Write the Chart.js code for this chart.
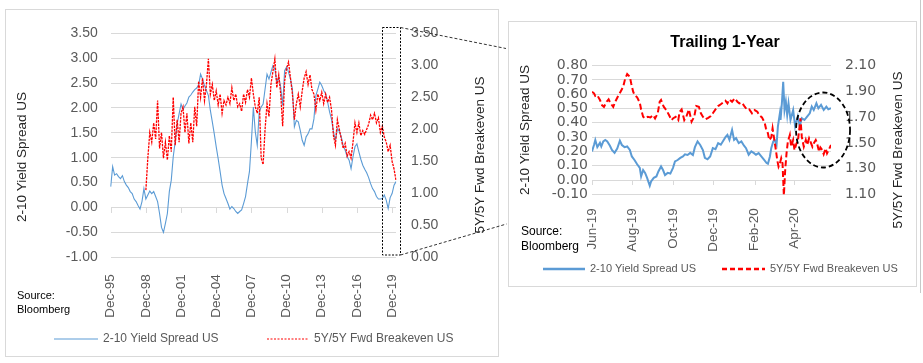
<!DOCTYPE html>
<html>
<head>
<meta charset="utf-8">
<script src="https://cdn.jsdelivr.net/npm/chart.js@4.4.1/dist/chart.umd.min.js"></script>
<style>
  html, body { margin: 0; padding: 0; background: #fff; }
  body { width: 923px; height: 363px; position: relative; overflow: hidden; }
  .frame { position: absolute; border: 1px solid #d9d9d9; box-sizing: border-box; }
  .wrap { position: absolute; }
  #leftFrame, #leftWrap { left: 5px; top: 9px; width: 494px; height: 348px; }
  #rightFrame, #rightWrap { left: 508px; top: 21px; width: 409px; height: 266px; }
  #edge { position: absolute; left: 920px; top: 0; width: 1px; height: 293px; background: #c8c8c8; }
  #overlay { position: absolute; left: 0; top: 0; pointer-events: none; }
</style>
</head>
<body>
<div class="frame" id="leftFrame"></div>
<div class="frame" id="rightFrame"></div>
<div id="edge"></div>
<div class="wrap" id="leftWrap"><canvas id="leftChart" width="494" height="348"></canvas></div>
<div class="wrap" id="rightWrap"><canvas id="rightChart" width="409" height="266"></canvas></div>
<canvas id="overlay" width="923" height="363"></canvas>
<script>
// ---- long history (every 2 months from Dec-95) ----
const leftSpread = [
  0.42,0.82,0.65,0.68,0.62,0.58,0.64,0.52,0.45,0.40,
  0.32,0.28,0.17,0.12,0.04,-0.03,0.12,0.38,0.17,0.25,
  0.33,0.28,0.32,0.22,0.12,-0.12,-0.40,-0.50,-0.32,-0.12,
  0.32,0.55,1.02,1.32,1.68,1.88,2.08,1.97,2.04,2.10,
  2.22,2.26,2.32,2.37,2.40,2.46,2.68,2.58,2.45,2.35,
  2.25,1.95,1.72,1.48,1.22,0.98,0.72,0.45,0.28,0.18,
  0.08,-0.03,0.02,-0.02,-0.08,-0.12,-0.08,-0.05,0.08,0.22,
  0.48,0.72,1.32,2.02,1.52,1.25,1.92,2.02,2.08,2.38,
  2.68,2.58,2.72,2.85,2.78,2.52,2.62,2.42,2.05,2.75,
  2.82,2.72,2.58,2.38,1.62,1.75,1.72,1.55,1.35,1.25,
  1.42,1.48,1.58,1.58,1.78,2.25,2.38,2.52,2.45,2.35,
  2.28,2.12,1.92,1.77,1.52,1.35,1.58,1.53,1.42,1.24,
  1.15,1.02,0.95,0.78,1.02,1.22,1.28,1.12,0.97,0.85,
  0.77,0.70,0.60,0.48,0.38,0.32,0.22,0.17,0.17,0.18,
  0.25,0.15,-0.02,0.20,0.28,0.45,0.52
];
const leftBreakeven = Array(18).fill(null).concat([
  1.05,1.55,1.95,1.80,2.10,1.85,2.45,1.70,1.95,1.55,
  1.80,1.52,1.90,1.65,2.50,1.75,2.15,1.80,2.25,2.35,
  1.95,2.25,1.78,2.10,1.80,2.35,2.05,2.75,2.50,2.80,
  2.45,2.70,3.10,2.55,2.70,2.45,2.60,2.38,2.55,2.25,
  2.45,2.38,2.50,2.40,2.65,2.45,2.55,2.35,2.40,2.28,
  2.55,2.42,2.62,2.50,2.80,2.55,2.35,2.25,2.50,1.55,
  1.45,2.00,2.40,2.20,2.70,2.90,3.10,2.65,2.85,2.55,
  2.05,2.75,2.95,3.05,2.80,2.55,2.15,2.40,2.55,2.35,
  2.60,2.80,2.90,2.70,2.85,2.62,2.55,2.30,2.55,2.45,
  2.58,2.40,2.55,2.42,2.50,2.30,1.90,1.75,2.15,2.00,
  1.85,1.70,1.78,1.58,1.65,1.55,1.80,2.10,1.95,2.10,
  1.90,1.98,1.92,2.00,2.08,2.22,2.15,2.25,2.10,2.18,
  1.95,2.05,1.88,1.80,1.65,1.75,1.50,1.38,1.20
]);
const MON = ['Jan','Feb','Mar','Apr','May','Jun','Jul','Aug','Sep','Oct','Nov','Dec'];
const leftMonths = leftSpread.map((v, i) => {
  const m = 11 + 2 * i;
  return MON[m % 12] + '-' + String((1995 + Math.floor(m / 12)) % 100).padStart(2, '0');
});
const LEFT_TICK_EVERY = 18; // 3 years

// ---- trailing year (x = days since 1 Jun 2019) ----
const trailTickDays = [0, 61, 122, 183, 245, 305];
const trailTickLabels = ['Jun-19', 'Aug-19', 'Oct-19', 'Dec-19', 'Feb-20', 'Apr-20'];
const trailSpreadDays = [0,3,5,8,12,14,17,20,23,27,30,34,38,42,45,49,53,57,60,64,68,72,74,77,80,83,87,89,93,97,
  100,104,107,110,114,118,122,125,129,133,137,140,144,148,152,155,159,163,167,170,174,178,182,186,190,194,197,201,204,207,
  211,214,217,221,225,229,232,236,240,244,247,251,255,259,263,265,268,270,273,275,278,280,283,284,286,288,290,292,294,296,
  299,303,306,310,313,316,320,324,328,331,334,338,341,345,349,353,356,360];
const trailSpread = [0.20,0.245,0.28,0.23,0.26,0.235,0.27,0.28,0.27,0.24,0.21,0.19,0.22,0.275,0.245,0.23,0.235,0.21,0.165,0.14,
  0.11,0.085,0.025,0.07,0.05,0.015,-0.04,-0.01,0.015,0.025,0.06,0.095,0.07,0.035,0.05,0.045,0.085,0.13,0.14,0.155,
  0.165,0.18,0.175,0.19,0.175,0.23,0.27,0.245,0.21,0.155,0.145,0.165,0.223,0.216,0.258,0.247,0.27,0.30,0.316,0.281,
  0.351,0.281,0.293,0.258,0.27,0.24,0.223,0.177,0.20,0.188,0.177,0.188,0.165,0.142,0.119,0.114,0.165,0.223,0.27,0.281,
  0.247,0.374,0.467,0.42,0.537,0.688,0.49,0.549,0.456,0.537,0.42,0.49,0.374,0.444,0.374,0.433,0.42,0.444,0.467,0.514,
  0.49,0.537,0.502,0.526,0.49,0.514,0.495,0.502];
const trailBkDays = [0,3,5,8,12,15,18,22,25,28,32,35,39,43,47,50,53,57,59,62,64,68,72,74,77,80,84,88,92,95,
  99,102,104,108,112,116,120,122,126,130,132,135,139,142,146,150,154,157,161,164,167,171,175,179,182,186,190,194,197,201,
  204,207,211,215,219,222,226,230,234,237,241,245,249,252,256,260,262,265,267,270,272,275,277,279,281,283,285,287,289,291,
  293,295,298,300,303,305,308,310,313,314,316,319,322,324,327,329,332,334,337,339,342,344,347,349,352,354,357,360];
const trailBreakeven = [1.898,1.885,1.864,1.87,1.833,1.794,1.78,1.82,1.838,1.807,1.78,1.82,1.86,1.898,1.937,2.0,2.035,2.014,1.963,1.898,
  1.872,1.854,1.812,1.76,1.703,1.69,1.703,1.698,1.716,1.69,1.73,1.82,1.833,1.781,1.755,1.716,1.677,1.69,1.703,1.677,
  1.742,1.76,1.677,1.703,1.76,1.665,1.703,1.786,1.781,1.73,1.703,1.683,1.695,1.708,1.73,1.76,1.786,1.80,1.812,1.828,
  1.807,1.838,1.82,1.846,1.82,1.807,1.812,1.781,1.755,1.76,1.73,1.755,1.742,1.716,1.698,1.657,1.613,1.574,1.522,1.543,
  1.613,1.51,1.444,1.366,1.315,1.34,1.38,1.34,1.09,1.289,1.418,1.51,1.561,1.47,1.522,1.444,1.496,1.51,1.64,1.69,
  1.548,1.47,1.522,1.483,1.535,1.51,1.47,1.496,1.522,1.496,1.431,1.465,1.444,1.413,1.457,1.418,1.45,1.483];

const FONT = '"Liberation Sans", Arial, sans-serif';
const WIDE = '"DejaVu Sans", "Liberation Sans", sans-serif';
const BLUE = '#5b9bd5', RED = '#ff0000', TICK = '#595959', TITLE = '#262626', GRID = '#d9d9d9';
Chart.defaults.font.family = FONT;
Chart.defaults.animation = false;

function vText(ctx, text, x, y, size, color) {
  ctx.save();
  ctx.translate(x, y);
  ctx.rotate(-Math.PI / 2);
  ctx.font = size + 'px ' + FONT;
  ctx.fillStyle = color;
  ctx.textAlign = 'center';
  ctx.textBaseline = 'middle';
  ctx.fillText(text, 0, 0);
  ctx.restore();
}
function legendItem(ctx, x, y, len, color, width, dash, text, size) {
  ctx.save();
  ctx.strokeStyle = color; ctx.lineWidth = width; ctx.setLineDash(dash);
  ctx.beginPath(); ctx.moveTo(x, y); ctx.lineTo(x + len, y); ctx.stroke();
  ctx.setLineDash([]);
  ctx.font = size + 'px ' + FONT; ctx.fillStyle = TICK;
  ctx.textAlign = 'left'; ctx.textBaseline = 'middle';
  ctx.fillText(text, x + len + 5, y);
  ctx.restore();
}
function source(ctx, x, y, gap, size) {
  ctx.save();
  ctx.font = size + 'px ' + FONT; ctx.fillStyle = '#000';
  ctx.textAlign = 'left'; ctx.textBaseline = 'middle';
  ctx.fillText('Source:', x, y);
  ctx.fillText('Bloomberg', x, y + gap);
  ctx.restore();
}
function zeroTicks(ctx, xs, y0) {
  ctx.save();
  ctx.strokeStyle = GRID; ctx.lineWidth = 1;
  xs.forEach(px => {
    const p = Math.round(px) + 0.5;
    ctx.beginPath(); ctx.moveTo(p, Math.round(y0)); ctx.lineTo(p, Math.round(y0) + 5); ctx.stroke();
  });
  ctx.restore();
}
const fixed2 = v => Number(v).toFixed(2);

// ---------- left chart ----------
const leftDecor = {
  id: 'leftDecor',
  beforeDatasetsDraw(chart) {
    const { x, y } = chart.scales;
    const xs = [];
    for (let i = 0; i < leftMonths.length; i += LEFT_TICK_EVERY) xs.push(x.getPixelForValue(i));
    zeroTicks(chart.ctx, xs, y.getPixelForValue(0));
  },
  afterDraw(chart) {
    const ctx = chart.ctx;
    vText(ctx, '2-10 Yield Spread US', 17, 148, 13.5, TITLE);
    vText(ctx, '5Y/5Y Fwd Breakeven US', 475, 146, 13.5, TITLE);
    source(ctx, 12, 287, 14, 11);
    legendItem(ctx, 49, 330, 44, BLUE, 1, [], '2-10 Yield Spread US', 12);
    legendItem(ctx, 262, 330, 42, RED, 1, [2, 1.5], '5Y/5Y Fwd Breakeven US', 12);
  }
};

new Chart(document.getElementById('leftChart'), {
  type: 'line',
  data: {
    labels: leftMonths,
    datasets: [
      { label: '2-10 Yield Spread US', data: leftSpread, yAxisID: 'y', borderColor: BLUE, borderWidth: 1.1,
        pointRadius: 0, tension: 0, order: 1 },
      { label: '5Y/5Y Fwd Breakeven US', data: leftBreakeven, yAxisID: 'y1', borderColor: RED, borderWidth: 1.3,
        borderDash: [2.5, 1], pointRadius: 0, tension: 0, spanGaps: false, order: 0 }
    ]
  },
  options: {
    responsive: false,
    layout: { padding: { top: 24.3, left: 0, right: 0, bottom: 0 } },
    plugins: { legend: { display: false }, tooltip: { enabled: false } },
    scales: {
      x: {
        grid: { display: false }, border: { display: false },
        ticks: {
          autoSkip: false, minRotation: 90, maxRotation: 90, padding: 9, color: TICK, font: { size: 13.5 },
          callback(v, i) { return i % LEFT_TICK_EVERY === 0 ? leftMonths[i] : null; }
        },
        afterFit(s) { s.height = 99.7; }
      },
      y: {
        position: 'left', min: -1, max: 3.5,
        grid: { color: GRID, drawTicks: false }, border: { display: false },
        ticks: { autoSkip: false, stepSize: 0.5, padding: 13, color: TICK, font: { size: 14 }, callback: fixed2 },
        afterFit(s) { s.width = 105.7; }
      },
      y1: {
        position: 'right', min: 0, max: 3.5,
        grid: { display: false, drawTicks: false }, border: { display: false },
        ticks: { autoSkip: false, stepSize: 0.5, padding: 15, color: TICK, font: { size: 14 }, callback: fixed2 },
        afterFit(s) { s.width = 103; }
      }
    }
  },
  plugins: [leftDecor]
});

// ---------- right chart ----------
const rightDecor = {
  id: 'rightDecor',
  beforeDatasetsDraw(chart) {
    const { x, y } = chart.scales;
    zeroTicks(chart.ctx, trailTickDays.map(d => x.getPixelForValue(d)), y.getPixelForValue(0));
  },
  afterDatasetsDraw(chart) {
    const { ctx, scales: { x, y } } = chart;
    // dashed ellipse around the recent divergence
    ctx.save();
    ctx.strokeStyle = '#000'; ctx.lineWidth = 1.8; ctx.setLineDash([5, 3]);
    ctx.beginPath();
    ctx.ellipse(x.getPixelForValue(348), y.getPixelForValue(0.35), 27, 37.5, 0, 0, Math.PI * 2);
    ctx.stroke();
    ctx.restore();
  },
  afterDraw(chart) {
    const ctx = chart.ctx;
    ctx.save();
    ctx.font = 'bold 16px ' + FONT; ctx.fillStyle = '#000';
    ctx.textAlign = 'center'; ctx.textBaseline = 'middle';
    ctx.fillText('Trailing 1-Year', 217, 22);
    ctx.restore();
    vText(ctx, '2-10 Yield Spread US', 17, 109, 13.5, TITLE);
    vText(ctx, '5Y/5Y Fwd Breakeven US', 390, 129, 13.5, TITLE);
    source(ctx, 13, 211, 15, 12);
    legendItem(ctx, 35, 248, 42, BLUE, 2.5, [], '2-10 Yield Spread US', 11);
    legendItem(ctx, 214, 248, 43, RED, 2.5, [5, 3], '5Y/5Y Fwd Breakeven US', 11);
  }
};

new Chart(document.getElementById('rightChart'), {
  type: 'line',
  data: {
    datasets: [
      { label: '2-10 Yield Spread US', data: trailSpreadDays.map((d, i) => ({ x: d, y: trailSpread[i] })),
        yAxisID: 'y', borderColor: BLUE, borderWidth: 2, pointRadius: 0, tension: 0, order: 1 },
      { label: '5Y/5Y Fwd Breakeven US', data: trailBkDays.map((d, i) => ({ x: d, y: trailBreakeven[i] })),
        yAxisID: 'y1', borderColor: RED, borderWidth: 2, borderDash: [6, 3], pointRadius: 0, tension: 0, order: 0 }
    ]
  },
  options: {
    responsive: false,
    layout: { padding: { top: 44.7, left: 0, right: 0, bottom: 0 } },
    plugins: { legend: { display: false }, tooltip: { enabled: false } },
    scales: {
      x: {
        type: 'linear', min: 0, max: 360,
        grid: { display: false }, border: { display: false },
        afterBuildTicks(s) { s.ticks = trailTickDays.map(v => ({ value: v })); },
        ticks: {
          autoSkip: false, minRotation: 90, maxRotation: 90, padding: 6, color: TICK, font: { size: 13.5 },
          callback(v) { return trailTickLabels[trailTickDays.indexOf(v)]; }
        },
        afterFit(s) { s.height = 92.7; }
      },
      y: {
        position: 'left', min: -0.1, max: 0.8,
        grid: { color: GRID, drawTicks: false }, border: { display: false },
        ticks: { autoSkip: false, stepSize: 0.1, padding: 4, color: TICK, font: { family: WIDE, size: 14 }, callback: fixed2 },
        afterFit(s) { s.width = 84; }
      },
      y1: {
        position: 'right', min: 1.1, max: 2.1,
        grid: { display: false, drawTicks: false }, border: { display: false },
        ticks: { autoSkip: false, stepSize: 0.2, padding: 14, color: TICK, font: { family: WIDE, size: 14 }, callback: fixed2 },
        afterFit(s) { s.width = 86; }
      }
    }
  },
  plugins: [rightDecor]
});

// ---------- zoom box and connectors ----------
(function () {
  const ctx = document.getElementById('overlay').getContext('2d');
  ctx.strokeStyle = '#000';
  ctx.lineWidth = 1;
  ctx.setLineDash([2, 1.5]);
  ctx.strokeRect(382.5, 27.5, 18, 227.5);
  ctx.setLineDash([3, 2]);
  ctx.strokeStyle = '#333';
  ctx.beginPath();
  ctx.moveTo(400.5, 27.5); ctx.lineTo(506, 48.5);
  ctx.moveTo(400.5, 255); ctx.lineTo(506.5, 224);
  ctx.stroke();
})();
</script>
</body>
</html>
